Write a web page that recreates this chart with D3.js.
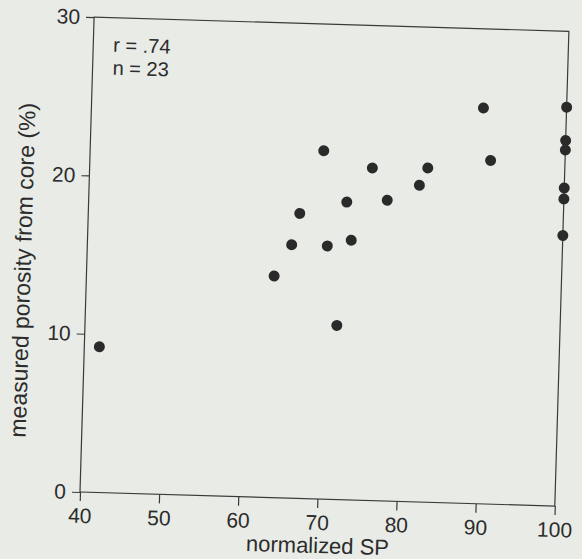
<!DOCTYPE html>
<html>
<head>
<meta charset="utf-8">
<script src="https://cdn.jsdelivr.net/npm/d3@7"></script>
<style>
  html, body { margin: 0; padding: 0; background: #e9ebe6; }
  svg { display: block; }
</style>
</head>
<body>
<svg id="chart" width="582" height="559"></svg>
<script>
// Normalized SP vs. porosity measured from core samples
const spValues = [41.9, 63.7, 65.8, 66.7, 69.5, 70.3, 71.8, 72.6, 73.3, 75.7, 77.7, 81.7, 82.7, 89.5, 90.6,
                  100, 100, 100, 100, 100, 100];
const porosityValues = [9.2, 14.0, 16.0, 18.0, 22.0, 16.0, 11.0, 18.8, 16.4, 21.0, 19.0, 20.0, 21.1, 25.0, 21.7,
                        25.2, 23.1, 22.5, 20.1, 19.4, 17.1];
const xTicks = [40, 50, 60, 70, 80, 90, 100];
const yTicks = [0, 10, 20, 30];
const statLines = ["r = .74", "n = 23"];
const xTitle = "normalized SP";
const yTitle = "measured porosity from core (%)";

const W = 582, H = 559;
const plotLeft = 80, plotTop = 17, plotSize = 475;
const ink = "#2c2c2c";
const font = "'Liberation Sans', Arial, Helvetica, sans-serif";

const svg = d3.select("#chart");
svg.append("rect").attr("width", W).attr("height", H).attr("fill", "#e9ebe6");

// the printed page sits slightly turned
const g = svg.append("g").attr("transform", `rotate(1.7,${plotLeft},${plotTop + plotSize})`);

const x = d3.scaleLinear().domain([40, 100]).range([plotLeft, plotLeft + plotSize]);
const y = d3.scaleLinear().domain([0, 30]).range([plotTop + plotSize, plotTop]);

// frame
g.append("rect")
  .attr("x", plotLeft).attr("y", plotTop)
  .attr("width", plotSize).attr("height", plotSize)
  .attr("fill", "none").attr("stroke", "#3a3a3a").attr("stroke-width", 1.2);

const xAxis = g.append("g")
  .attr("transform", `translate(0,${plotTop + plotSize})`)
  .call(d3.axisBottom(x).tickValues(xTicks).tickSize(9).tickPadding(7).tickFormat(d3.format("d")));
const yAxis = g.append("g")
  .attr("transform", `translate(${plotLeft},0)`)
  .call(d3.axisLeft(y).tickValues(yTicks).tickSize(8).tickPadding(6).tickFormat(d3.format("d")));

[xAxis, yAxis].forEach(a => {
  a.select(".domain").remove();
  a.selectAll(".tick line").attr("stroke", "#3a3a3a").attr("stroke-width", 1.2);
  a.selectAll(".tick text").attr("fill", ink).style("font-family", font).style("font-size", "21px");
});

// points
g.append("g").selectAll("circle")
  .data(spValues.map((v, i) => ({ sp: v, por: porosityValues[i] })))
  .join("circle")
  .attr("cx", d => x(d.sp))
  .attr("cy", d => y(d.por))
  .attr("r", 5.5)
  .attr("fill", "#2a2a2a");

// correlation note
g.append("g").selectAll("text")
  .data(statLines)
  .join("text")
  .attr("x", x(40) + 20)
  .attr("y", (d, i) => y(30) + 34 + i * 23)
  .attr("fill", ink)
  .style("font-family", font).style("font-size", "20px")
  .text(d => d);

// axis titles
g.append("text")
  .attr("x", 319).attr("y", plotTop + plotSize + 54)
  .attr("text-anchor", "middle")
  .attr("fill", ink)
  .style("font-family", font).style("font-size", "22px")
  .text(xTitle);

g.append("text")
  .attr("transform", "translate(24,272) rotate(-90)")
  .attr("text-anchor", "middle")
  .attr("fill", ink)
  .style("font-family", font).style("font-size", "23px")
  .text(yTitle);
</script>
</body>
</html>
